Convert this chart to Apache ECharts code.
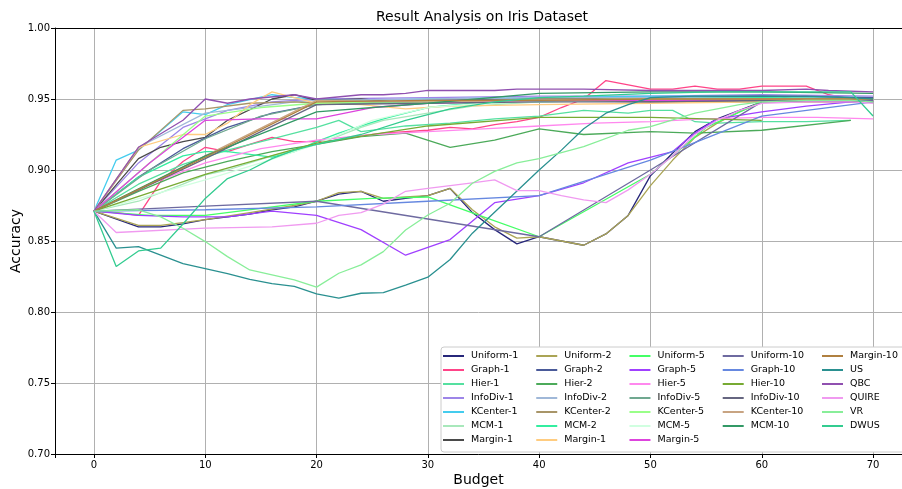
<!DOCTYPE html>
<html>
<head>
<meta charset="utf-8">
<script src="https://cdn.jsdelivr.net/npm/echarts@6.0.0/dist/echarts.min.js"></script>
<style>
  html, body { margin: 0; padding: 0; background: #fff; }
  #chart { width: 902px; height: 489px; }
</style>
</head>
<body>
<div id="chart"></div>
<script>
// series names, in legend order (column by column)
const seriesNames = [
  'Uniform-1', 'Graph-1', 'Hier-1', 'InfoDiv-1', 'KCenter-1', 'MCM-1', 'Margin-1',
  'Uniform-2', 'Graph-2', 'Hier-2', 'InfoDiv-2', 'KCenter-2', 'MCM-2', 'Margin-1 ',
  'Uniform-5', 'Graph-5', 'Hier-5', 'InfoDiv-5', 'KCenter-5', 'MCM-5', 'Margin-5',
  'Uniform-10', 'Graph-10', 'Hier-10', 'InfoDiv-10', 'KCenter-10', 'MCM-10',
  'Margin-10', 'US', 'QBC', 'QUIRE', 'VR', 'DWUS'
];

// [budget, accuracy]
const uniform1 = [[0,.871],[4,.860],[6,.860],[8,.862],[10,.865],[12,.867],[14,.869],[16,.872],[18,.874],[20,.878],[22,.883],[24,.885],[26,.878],[28,.880],[30,.882],[32,.887],[34,.870],[36,.858],[38,.848],[40,.853],[42,.850],[44,.847],[46,.855],[48,.868],[50,.896],[52,.912],[54,.927],[56,.936],[58,.942],[60,.948],[62,.951],[64,.949],[66,.950],[68,.949],[70,.948]];
const graph1 = [[0,.871],[2,.870],[4,.868],[6,.892],[8,.906],[10,.916],[12,.913],[14,.918],[16,.923],[18,.920],[20,.920],[22,.921],[24,.924],[26,.926],[28,.927],[30,.928],[32,.930],[34,.929],[36,.932],[38,.934],[40,.937],[42,.944],[44,.950],[46,.963],[48,.960],[50,.957],[52,.957],[54,.959],[56,.957],[58,.957],[60,.959],[62,.959],[64,.959],[66,.953],[68,.950]];
const hier1 = [[0,.871],[4,.890],[8,.904],[10,.909],[12,.914],[16,.922],[20,.930],[22,.935],[24,.927],[26,.929],[28,.931],[32,.933],[36,.936],[40,.938],[44,.942],[48,.940],[50,.942],[52,.942],[54,.934],[56,.933],[60,.934],[64,.934],[68,.935]];
const infoDiv1 = [[0,.871],[4,.905],[8,.930],[12,.942],[16,.948],[20,.950],[30,.951],[40,.952],[50,.952],[60,.953],[70,.952]];
const kCenter1 = [[0,.871],[2,.907],[4,.914],[8,.941],[10,.939],[12,.946],[16,.953],[18,.951],[20,.950],[24,.949],[30,.950],[40,.951],[50,.952],[60,.952],[70,.951]];
const mcm1 = [[0,.871],[4,.878],[8,.890],[10,.8965],[12,.900],[16,.910],[20,.918],[24,.930],[26,.935],[30,.940],[34,.945],[40,.948],[50,.949],[60,.949],[70,.949]];
const margin1 = [[0,.871],[4,.908],[6,.916],[8,.920],[10,.923],[12,.935],[16,.950],[18,.953],[20,.949],[24,.950],[28,.947],[30,.949],[40,.949],[50,.948],[60,.948],[70,.948]];

const uniform2 = [[0,.871],[4,.861],[6,.861],[8,.863],[10,.865],[14,.870],[18,.875],[20,.878],[22,.884],[24,.885],[26,.880],[28,.881],[30,.882],[32,.887],[34,.872],[36,.860],[38,.852],[40,.853],[42,.850],[44,.847],[46,.855],[48,.868],[50,.889],[52,.907],[54,.923],[56,.933],[58,.941],[60,.948],[64,.950],[68,.950],[70,.949]];
const graph2 = [[0,.871],[4,.895],[8,.915],[12,.930],[16,.940],[20,.946],[30,.949],[40,.950],[50,.951],[60,.952],[70,.951]];
const hier2 = [[0,.871],[4,.885],[8,.898],[12,.906],[16,.913],[20,.918],[24,.9235],[28,.926],[32,.916],[36,.921],[40,.929],[44,.925],[50,.927],[54,.926],[60,.928],[68,.935]];
const infoDiv2 = [[0,.871],[4,.916],[10,.940],[14,.944],[18,.948],[20,.949],[30,.950],[40,.951],[50,.951],[60,.951],[70,.950]];
const kCenter2 = [[0,.871],[4,.914],[8,.942],[10,.943],[14,.947],[18,.948],[20,.947],[30,.948],[40,.950],[50,.950],[60,.950],[70,.949]];
const mcm2 = [[0,.871],[4,.895],[8,.910],[10,.913],[12,.913],[16,.909],[18,.913],[20,.920],[22,.926],[24,.931],[26,.936],[28,.940],[30,.944],[34,.947],[40,.948],[50,.950],[60,.951],[70,.950]];
const margin1b = [[0,.871],[4,.916],[8,.925],[10,.925],[12,.933],[14,.946],[16,.955],[18,.951],[20,.947],[24,.946],[28,.943],[30,.944],[32,.945],[40,.946],[50,.947],[60,.948],[70,.948]];

const uniform5 = [[0,.871],[5,.868],[10,.868],[15,.873],[20,.878],[25,.880],[30,.881],[35,.867],[40,.853],[45,.875],[50,.897],[55,.930],[60,.948],[65,.950],[70,.950]];
const graph5 = [[0,.871],[4,.868],[8,.867],[12,.867],[16,.871],[20,.868],[24,.858],[28,.840],[32,.851],[36,.877],[40,.882],[44,.891],[48,.905],[52,.913],[54,.926],[56,.936],[60,.941],[64,.945],[68,.948],[70,.948]];
const hier5 = [[0,.871],[5,.890],[10,.905],[15,.915],[20,.921],[25,.925],[30,.927],[35,.929],[40,.931],[45,.933],[50,.934],[55,.936],[60,.937],[65,.937],[70,.936]];
const infoDiv5 = [[0,.871],[5,.900],[10,.922],[15,.938],[20,.946],[25,.947],[30,.948],[40,.949],[50,.950],[60,.950],[70,.949]];
const kCenter5 = [[0,.871],[5,.905],[10,.938],[15,.944],[20,.947],[25,.948],[30,.948],[40,.949],[50,.950],[60,.950],[70,.950]];
const mcm5 = [[0,.871],[5,.882],[10,.893],[15,.905],[20,.918],[25,.935],[30,.944],[35,.947],[40,.948],[50,.949],[60,.949],[70,.949]];
const margin5 = [[0,.871],[5,.905],[10,.935],[15,.936],[20,.936],[25,.944],[30,.947],[35,.948],[40,.949],[50,.949],[60,.949],[70,.949]];

const uniform10 = [[0,.871],[10,.8745],[20,.878],[30,.8655],[40,.853],[50,.900],[60,.948],[70,.949]];
const graph10 = [[0,.871],[10,.872],[20,.874],[30,.878],[40,.882],[50,.907],[60,.938],[70,.948]];
const hier10 = [[0,.871],[10,.897],[20,.919],[30,.931],[40,.937],[50,.937],[60,.935]];
const infoDiv10 = [[0,.871],[10,.908],[20,.946],[30,.947],[40,.948],[50,.948],[60,.949],[70,.948]];
const kCenter10 = [[0,.871],[10,.910],[20,.949],[30,.948],[40,.949],[50,.950],[60,.950],[70,.950]];
const mcm10 = [[0,.871],[10,.910],[20,.941],[30,.947],[40,.954],[50,.955],[60,.955],[70,.954]];
const margin10 = [[0,.871],[10,.909],[20,.948],[30,.949],[40,.949],[50,.950],[60,.950],[70,.950]];

const us = [[0,.871],[2,.845],[4,.846],[6,.840],[8,.834],[10,.8305],[12,.827],[14,.823],[16,.820],[18,.818],[20,.8127],[22,.8097],[24,.8132],[26,.8137],[28,.819],[30,.8245],[32,.837],[34,.8555],[40,.900],[42,.914],[44,.929],[46,.940],[48,.946],[50,.951],[54,.952],[60,.952],[64,.952],[68,.951],[70,.950]];
const qbc = [[0,.871],[4,.916],[8,.935],[10,.950],[12,.947],[14,.950],[18,.953],[20,.950],[24,.953],[26,.953],[28,.954],[30,.956],[36,.956],[38,.957],[44,.957],[50,.956],[60,.956],[64,.957],[66,.956],[70,.955]];
const quire = [[0,.871],[2,.856],[10,.859],[16,.860],[20,.8625],[22,.868],[24,.870],[26,.876],[28,.885],[30,.887],[32,.889],[34,.891],[36,.893],[38,.8855],[40,.8855],[42,.882],[44,.879],[46,.877],[48,.886],[50,.897],[52,.910],[54,.925],[56,.935],[58,.942],[60,.947],[64,.948],[68,.948],[70,.947]];
const vr = [[0,.871],[4,.872],[6,.867],[8,.859],[10,.8496],[12,.839],[14,.8296],[18,.8226],[20,.8175],[22,.8273],[24,.8332],[26,.8425],[28,.8578],[30,.8683],[32,.8766],[34,.8907],[36,.899],[38,.905],[40,.908],[44,.9165],[48,.928],[50,.9305],[54,.940],[58,.946],[60,.948],[64,.949],[68,.949],[70,.948]];
const dwus = [[0,.871],[2,.832],[4,.843],[6,.845],[8,.862],[10,.880],[12,.894],[14,.900],[16,.908],[18,.914],[20,.918],[24,.925],[28,.935],[32,.943],[36,.948],[40,.951],[44,.952],[50,.954],[56,.955],[60,.955],[64,.955],[68,.955],[70,.938]];

const seriesValues = [
  uniform1, graph1, hier1, infoDiv1, kCenter1, mcm1, margin1,
  uniform2, graph2, hier2, infoDiv2, kCenter2, mcm2, margin1b,
  uniform5, graph5, hier5, infoDiv5, kCenter5, mcm5, margin5,
  uniform10, graph10, hier10, infoDiv10, kCenter10, mcm10,
  margin10, us, qbc, quire, vr, dwus
];

const palette = [
  '#27277a', '#ff4488', '#55e0a0', '#9d85e8', '#44ccee', '#a8e8bb', '#4a4a4a',
  '#aaa455', '#4a5a99', '#4caa5a', '#a0b8d8', '#a89568', '#33eea0', '#ffcc80',
  '#44ff66', '#a040ff', '#ff88ee', '#70a890', '#99ff88', '#d0ffe0', '#dd44dd',
  '#6e6aa0', '#6688e0', '#77aa33', '#666680', '#c8a482', '#339966',
  '#b08040', '#2a9090', '#9050b0', '#f09af0', '#88ee99', '#33cc90'
];

const yTicks = [0.70, 0.75, 0.80, 0.85, 0.90, 0.95, 1.00];

var myChart = echarts.init(document.getElementById('chart'));

// legend: 3 columns of 7, then 2 of 6 ('' starts a new column)
const legendData = seriesNames.slice(0, 27).concat([''], seriesNames.slice(27));

var option = {
  animation: false,
  backgroundColor: '#fff',
  title: {
    text: 'Result Analysis on Iris Dataset',
    left: 376,
    top: 10,
    padding: 0,
    textStyle: { fontFamily: 'DejaVu Sans', fontSize: 14, fontWeight: 'normal', color: '#000' }
  },
  legend: {
    data: legendData,
    orient: 'vertical',
    left: 441,
    top: 347,
    height: 96,
    padding: [4, 8, 7, 1],
    itemGap: 4,
    itemWidth: 21,
    itemHeight: 10,
    itemStyle: { opacity: 0 },
    backgroundColor: '#fff',
    borderColor: '#cccccc',
    borderWidth: 1,
    borderRadius: 3,
    textStyle: { fontFamily: 'DejaVu Sans', fontSize: 9.5, color: '#000', lineHeight: 10, padding: [0, 13, 0, 2] }
  },
  grid: { left: 55, right: 0, top: 28, bottom: 35, outerBoundsMode: 'none' },
  xAxis: [
    {
      type: 'value',
      min: -3.5,
      max: 72.6,
      splitNumber: 8,
      name: 'Budget',
      nameLocation: 'middle',
      nameGap: 19,
      nameMoveOverlap: false,
      nameTextStyle: { fontFamily: 'DejaVu Sans', fontSize: 14, color: '#000' },
      axisLine: { onZero: false, lineStyle: { color: '#000', width: 1 } },
      axisTick: { length: 4, lineStyle: { color: '#000' } },
      axisLabel: {
        fontFamily: 'DejaVu Sans', fontSize: 10, color: '#000', margin: 6,
        formatter: function (v) { return v % 10 === 0 ? String(v) : ''; }
      },
      splitLine: { show: true, lineStyle: { color: '#b0b0b0', width: 1 } }
    },
    {
      type: 'value',
      position: 'top',
      min: -3.5,
      max: 72.6,
      axisLine: { onZero: false, lineStyle: { color: '#000', width: 1 } },
      axisTick: { show: false },
      axisLabel: { show: false },
      splitLine: { show: false }
    }
  ],
  yAxis: {
    type: 'value',
    min: yTicks[0],
    max: yTicks[yTicks.length - 1],
    interval: 0.05,
    name: 'Accuracy',
    nameLocation: 'middle',
    nameGap: 32,
    nameMoveOverlap: false,
    nameTextStyle: { fontFamily: 'DejaVu Sans', fontSize: 14, color: '#000' },
    axisLine: { show: true, onZero: false, lineStyle: { color: '#000', width: 1 } },
    axisTick: { show: true, length: 4, lineStyle: { color: '#000' } },
    axisLabel: {
      fontFamily: 'DejaVu Sans', fontSize: 10, color: '#000', margin: 5,
      formatter: function (v) { return v.toFixed(2); }
    },
    splitLine: { show: true, lineStyle: { color: '#b0b0b0', width: 1 } }
  },
  series: seriesNames.map(function (name, i) {
    return {
      name: name,
      type: 'line',
      xAxisIndex: 0,
      data: seriesValues[i],
      symbol: 'none',
      clip: true,
      lineStyle: { width: 1.3, color: palette[i] },
      itemStyle: { color: palette[i] },
      emphasis: { disabled: true }
    };
  })
};

myChart.setOption(option);
</script>
</body>
</html>
